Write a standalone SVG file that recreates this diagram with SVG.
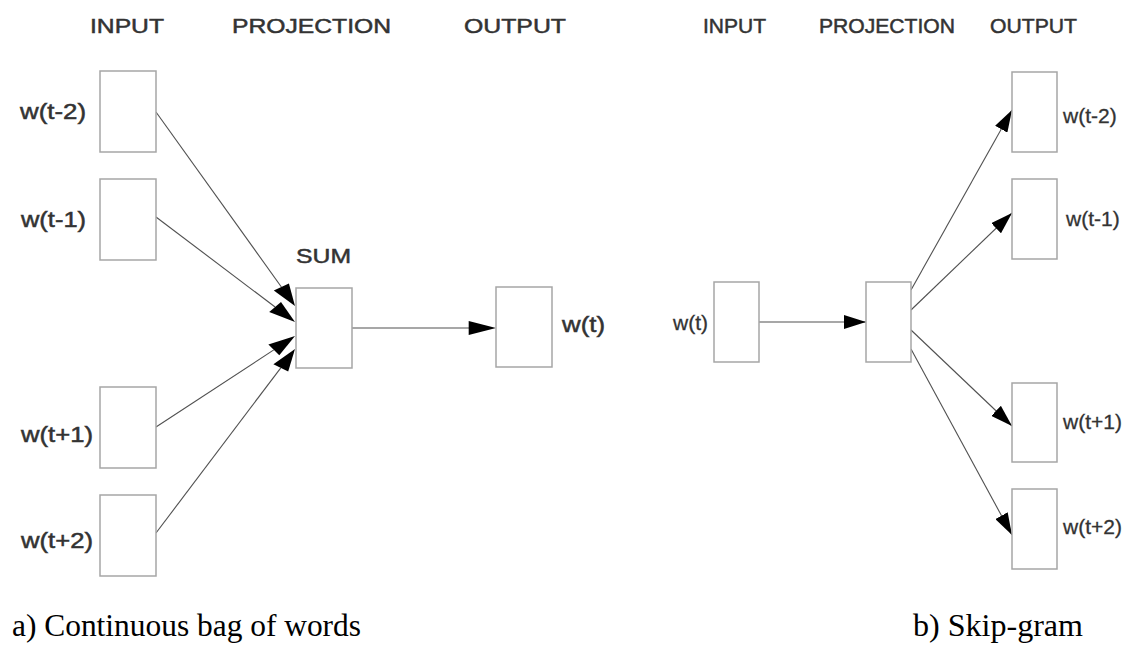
<svg xmlns="http://www.w3.org/2000/svg" width="1126" height="646" viewBox="0 0 1126 646">
  <style>
    .box { fill: #ffffff; stroke: #a6a6a6; stroke-width: 1.5; }
    .edge { stroke: #505050; stroke-width: 1.1; fill: none; }
    .edge.m { marker-end: url(#arrow); }
    .head { fill: #000000; }
    .hdr { font-family: "Liberation Sans", Arial, sans-serif; font-size: 21px; fill: #333333; stroke: #333333; stroke-width: 0.5; }
    .lblL { font-family: "Liberation Sans", Arial, sans-serif; font-size: 22px; fill: #333333; stroke: #333333; stroke-width: 0.5; }
    .lblR { font-family: "Liberation Sans", Arial, sans-serif; font-size: 21px; fill: #333333; stroke: #333333; stroke-width: 0.3; }
    .cap { font-family: "Liberation Serif", "Times New Roman", serif; fill: #000000; }
  </style>
  <defs>
    <marker id="arrow" markerUnits="userSpaceOnUse" markerWidth="22" markerHeight="14" refX="22" refY="7" orient="auto">
      <path d="M0,0 L22,7 L0,14 z" fill="#000000"/>
    </marker>
  </defs>
  <rect width="1126" height="646" fill="#ffffff"/>

  <!-- column headers -->
  <g id="headers">
    <text class="hdr" x="90" y="33" textLength="74" lengthAdjust="spacingAndGlyphs">INPUT</text>
    <text class="hdr" x="232" y="33" textLength="159" lengthAdjust="spacingAndGlyphs">PROJECTION</text>
    <text class="hdr" x="464" y="33" textLength="102" lengthAdjust="spacingAndGlyphs">OUTPUT</text>
    <text class="hdr" x="703" y="33" textLength="63" lengthAdjust="spacingAndGlyphs">INPUT</text>
    <text class="hdr" x="819" y="33" textLength="136" lengthAdjust="spacingAndGlyphs">PROJECTION</text>
    <text class="hdr" x="990" y="33" textLength="87" lengthAdjust="spacingAndGlyphs">OUTPUT</text>
  </g>

  <!-- connectors -->
  <g id="connectors">
    <!-- CBOW panel is drawn wider than tall, so its arrowheads are stretched polygons -->
    <line class="edge" x1="156" y1="112" x2="281.4" y2="287"/>
    <polygon class="head" points="295,306 273.8,290.5 288.9,283.5"/>
    <line class="edge" x1="156" y1="217" x2="275.1" y2="307"/>
    <polygon class="head" points="295,322 269.2,312.1 281,301.9"/>
    <line class="edge" x1="156" y1="427" x2="273.8" y2="349.9"/>
    <polygon class="head" points="295,336 279.3,355.3 268.4,344.4"/>
    <line class="edge" x1="156" y1="533" x2="280.8" y2="367.8"/>
    <polygon class="head" points="295,349 288.2,371.4 273.4,364.2"/>
    <line class="edge" x1="350" y1="328" x2="469" y2="328"/>
    <polygon class="head" points="496,328 468.7,321 468.7,335"/>

    <!-- Skip-gram panel -->
    <line class="edge m" x1="758" y1="322" x2="866" y2="322"/>
    <line class="edge m" x1="911" y1="290" x2="1012" y2="110"/>
    <line class="edge m" x1="911" y1="310" x2="1012" y2="213"/>
    <line class="edge m" x1="911" y1="330" x2="1012" y2="426"/>
    <line class="edge m" x1="911" y1="349" x2="1012" y2="535"/>
  </g>

  <!-- CBOW: context inputs -->
  <g id="cbow-in-t-2">
    <rect class="box" x="100" y="71" width="56" height="81"/>
    <text class="lblL" x="20" y="119" textLength="66" lengthAdjust="spacingAndGlyphs">w(t-2)</text>
  </g>
  <g id="cbow-in-t-1">
    <rect class="box" x="100" y="179" width="56" height="81"/>
    <text class="lblL" x="21" y="227" textLength="65" lengthAdjust="spacingAndGlyphs">w(t-1)</text>
  </g>
  <g id="cbow-in-t+1">
    <rect class="box" x="100" y="387" width="56" height="81"/>
    <text class="lblL" x="21" y="442" textLength="72" lengthAdjust="spacingAndGlyphs">w(t+1)</text>
  </g>
  <g id="cbow-in-t+2">
    <rect class="box" x="100" y="495" width="56" height="81"/>
    <text class="lblL" x="21" y="548" textLength="72" lengthAdjust="spacingAndGlyphs">w(t+2)</text>
  </g>
  <!-- CBOW: projection (sum) -->
  <g id="cbow-sum">
    <rect class="box" x="296" y="288" width="56" height="80"/>
    <text class="hdr" x="296" y="263" textLength="55" lengthAdjust="spacingAndGlyphs">SUM</text>
  </g>
  <!-- CBOW: output -->
  <g id="cbow-out">
    <rect class="box" x="496" y="287" width="56" height="80"/>
    <text class="lblL" x="562" y="332" textLength="43" lengthAdjust="spacingAndGlyphs">w(t)</text>
  </g>

  <!-- Skip-gram: input -->
  <g id="sg-in">
    <rect class="box" x="714" y="282" width="45" height="80"/>
    <text class="lblR" x="673" y="330">w(t)</text>
  </g>
  <!-- Skip-gram: projection -->
  <g id="sg-proj">
    <rect class="box" x="866" y="282" width="45" height="80"/>
  </g>
  <!-- Skip-gram: context outputs -->
  <g id="sg-out-t-2">
    <rect class="box" x="1012" y="72" width="45" height="80"/>
    <text class="lblR" x="1063" y="123">w(t-2)</text>
  </g>
  <g id="sg-out-t-1">
    <rect class="box" x="1012" y="179" width="45" height="80"/>
    <text class="lblR" x="1066" y="226">w(t-1)</text>
  </g>
  <g id="sg-out-t+1">
    <rect class="box" x="1012" y="383" width="45" height="79"/>
    <text class="lblR" x="1063" y="429">w(t+1)</text>
  </g>
  <g id="sg-out-t+2">
    <rect class="box" x="1012" y="489" width="45" height="80"/>
    <text class="lblR" x="1063" y="534">w(t+2)</text>
  </g>

  <!-- captions -->
  <g id="captions">
    <text class="cap" x="12" y="636" font-size="31" textLength="349" lengthAdjust="spacingAndGlyphs">a) Continuous bag of words</text>
    <text class="cap" x="913" y="636" font-size="32" textLength="170" lengthAdjust="spacingAndGlyphs">b) Skip-gram</text>
  </g>
</svg>
